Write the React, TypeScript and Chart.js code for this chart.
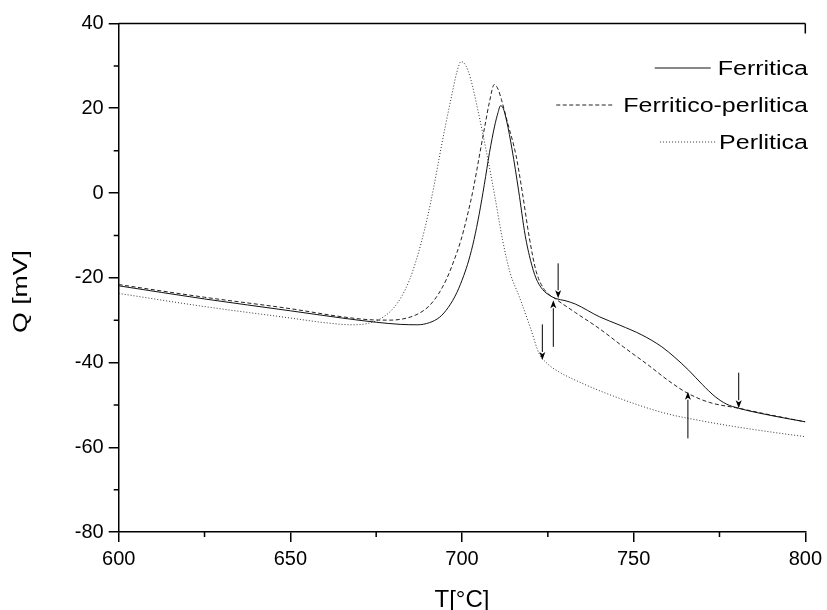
import React, { useEffect, useRef } from "react";
import { Chart, registerables } from "chart.js";

Chart.register(...registerables);

// ---- data ----
const ferriticaT = [600, 625, 650, 665, 675, 682, 687, 690.5, 693.5, 696, 698.5, 700.5, 702, 703.5, 705, 706.5, 708, 709.5, 710.5, 711.2, 712, 713, 714.6, 716.5, 718.4, 720, 721.5, 723.5, 725.4, 727.3, 730, 733, 740, 746, 752.4, 758.2, 762, 766, 770, 773.8, 777, 780.6, 790, 800];
const ferriticaQ = [-21.9, -25, -27.8, -29.5, -30.5, -31, -31.1, -30.6, -29.3, -27, -23.5, -19.5, -15.8, -11, -5, 2, 9.5, 15.8, 19, 20.6, 20, 17, 10.2, 0.5, -10, -16, -20, -22.8, -24.1, -24.9, -25.4, -26.2, -29.2, -31.2, -33.5, -36.3, -38.8, -41.8, -45.2, -48.1, -49.8, -50.8, -52.5, -54];

const ferPerT = [600, 625, 650, 665, 673, 679, 684, 687.5, 690.5, 693, 695.5, 697.5, 699.7, 701.5, 703.3, 705, 706.7, 708, 709.4, 710.5, 711.5, 713.3, 715.7, 717.6, 719.6, 721.6, 724, 727.3, 733, 740, 747, 754.4, 760, 765.6, 772, 780.6, 790, 800];
const ferPerQ = [-21.6, -24.6, -27.3, -29.2, -29.9, -30, -29.5, -28.4, -26.6, -24, -20.3, -16.3, -11.1, -5.5, 1, 8.5, 16, 21.5, 25.6, 24.5, 22, 16.5, 9, 0, -10.5, -18.5, -22.8, -25, -28.2, -32, -36.3, -40.7, -44.2, -47.2, -49.4, -50.8, -52.4, -54];

const perliticaT = [600, 625, 650, 660, 668, 673, 677, 680, 682.5, 684.7, 686.5, 688.1, 690, 691.8, 693.4, 695.2, 697, 698.5, 699.7, 701, 702.5, 704.5, 707, 709.5, 711.8, 714, 716.7, 720, 722.5, 724.5, 727, 735, 747, 759.3, 770, 780, 790, 800];
const perliticaQ = [-23.7, -26.8, -29.5, -30.6, -31.1, -30.7, -29.3, -27.2, -24.3, -20.5, -16.3, -11.8, -5.5, 1.5, 8.5, 16, 23, 28.5, 31, 30.2, 27, 20, 10.2, -0.5, -11, -18.8, -24.5, -32, -38, -40, -41.6, -44.9, -48.8, -52, -53.8, -55.2, -56.4, -57.5];

const seriesNames = ["Ferritica", "Ferritico-perlitica", "Perlitica"];

// arrows: x position, start value, tip value
const arrowT = [728, 726.6, 723.4, 765.8, 780.6];
const arrowFrom = [-16.6, -36.3, -31, -57.9, -42.4];
const arrowTo = [-24.85, -25.3, -39.4, -46.9, -50.8];

const xTickMin = 600;
const xTickMax = 800;
const xStep = 50;
const yTickMin = -80;
const yTickMax = 40;
const yStep = 20;

const xTitle = "T[°C]";
const yTitle = "Q [mV]";

const FONT = '"Liberation Sans", Arial, sans-serif';

const toXY = (t: number[], q: number[]) => t.map((x, i) => ({ x, y: q[i] }));

const lineStyles = [
  { color: "#111", dash: [] as number[] },
  { color: "#222", dash: [4, 2.5] },
  { color: "#333", dash: [1, 2] },
];

const overlayPlugin = {
  id: "overlay",
  afterDraw(chart: any) {
    const ctx = chart.ctx as CanvasRenderingContext2D;
    const xs = chart.scales.x;
    const ys = chart.scales.y;
    const area = chart.chartArea;
    ctx.save();

    // minor ticks
    ctx.strokeStyle = "#000";
    ctx.lineWidth = 1.5;
    ctx.beginPath();
    for (let v = xTickMin + xStep / 2; v < xTickMax; v += xStep) {
      const px = xs.getPixelForValue(v);
      ctx.moveTo(px, area.bottom);
      ctx.lineTo(px, area.bottom + 5);
    }
    for (let v = yTickMin + yStep / 2; v < yTickMax; v += yStep) {
      const py = ys.getPixelForValue(v);
      ctx.moveTo(area.left, py);
      ctx.lineTo(area.left - 5, py);
    }
    // top frame line and right end tick
    ctx.moveTo(area.left, area.top);
    ctx.lineTo(area.right, area.top);
    ctx.moveTo(area.right, area.top);
    ctx.lineTo(area.right, area.top + 10);
    ctx.stroke();

    // arrows
    ctx.fillStyle = "#000";
    ctx.strokeStyle = "#000";
    ctx.lineWidth = 1;
    arrowT.forEach((t, i) => {
      const px = xs.getPixelForValue(t);
      const y0 = ys.getPixelForValue(arrowFrom[i]);
      const y1 = ys.getPixelForValue(arrowTo[i]);
      const dir = y1 > y0 ? 1 : -1;
      const headLen = 8;
      ctx.beginPath();
      ctx.moveTo(px, y0);
      ctx.lineTo(px, y1 - dir * headLen);
      ctx.stroke();
      ctx.beginPath();
      ctx.moveTo(px, y1);
      ctx.lineTo(px - 3, y1 - dir * headLen);
      ctx.lineTo(px, y1 - dir * (headLen - 2));
      ctx.lineTo(px + 3, y1 - dir * headLen);
      ctx.closePath();
      ctx.fill();
    });

    // legend
    const rowY = [68, 105, 142];
    const gaps = [7, 11, 3];
    const legScale = 1.25;
    const rightEdge = 808;
    ctx.font = `20px ${FONT}`;
    ctx.textBaseline = "alphabetic";
    ctx.textAlign = "left";
    seriesNames.forEach((name, i) => {
      const w = ctx.measureText(name).width * legScale;
      const start = rightEdge - w;
      ctx.save();
      ctx.translate(start, rowY[i] + 7.2);
      ctx.scale(legScale, 1);
      ctx.fillStyle = "#000";
      ctx.fillText(name, 0, 0);
      ctx.restore();
      const st = lineStyles[i];
      ctx.save();
      ctx.strokeStyle = st.color;
      ctx.lineWidth = 1;
      ctx.setLineDash(st.dash);
      ctx.beginPath();
      ctx.moveTo(start - gaps[i] - 56, rowY[i]);
      ctx.lineTo(start - gaps[i], rowY[i]);
      ctx.stroke();
      ctx.restore();
    });

    // axis titles
    ctx.fillStyle = "#000";
    ctx.textAlign = "center";
    ctx.font = `24px ${FONT}`;
    {
      const w = ctx.measureText(xTitle).width;
      const s = 55 / w;
      ctx.save();
      ctx.translate((area.left + area.right) / 2, 606.5);
      ctx.scale(s, 1);
      ctx.fillText(xTitle, 0, 0);
      ctx.restore();
    }
    ctx.font = `21px ${FONT}`;
    {
      const w = ctx.measureText(yTitle).width;
      const s = 83 / w;
      ctx.save();
      ctx.translate(27.3, 291.5);
      ctx.rotate(-Math.PI / 2);
      ctx.scale(s, 1);
      ctx.fillText(yTitle, 0, 0);
      ctx.restore();
    }
    ctx.restore();
  },
};

export default function App() {
  const ref = useRef<HTMLCanvasElement | null>(null);
  useEffect(() => {
    if (!ref.current) return;
    const datasets = [
      toXY(ferriticaT, ferriticaQ),
      toXY(ferPerT, ferPerQ),
      toXY(perliticaT, perliticaQ),
    ].map((d, i) => ({
      label: seriesNames[i],
      data: d,
      borderColor: lineStyles[i].color,
      borderDash: lineStyles[i].dash,
      borderWidth: 1,
      pointRadius: 0,
      fill: false,
      cubicInterpolationMode: "monotone" as const,
    }));
    const axisCommon = {
      grid: {
        display: true,
        drawOnChartArea: false,
        drawTicks: true,
        tickLength: 10,
        color: "#000",
        lineWidth: 1.5,
      },
      border: { display: true, color: "#000", width: 1.5 },
      ticks: {
        color: "#000",
        font: { family: FONT, size: 20 },
        padding: 5,
      },
    };
    const chart = new Chart(ref.current, {
      type: "line",
      data: { datasets },
      options: {
        animation: false,
        responsive: false,
        devicePixelRatio: 1,
        layout: { padding: { left: 0, top: 23.5, right: 20, bottom: 0 } },
        plugins: { legend: { display: false }, tooltip: { enabled: false } },
        scales: {
          x: {
            type: "linear",
            min: xTickMin,
            max: xTickMax,
            ...axisCommon,
            ticks: { ...axisCommon.ticks, stepSize: xStep, maxRotation: 0 },
            afterFit: (s: any) => {
              s.height = 78;
            },
          },
          y: {
            type: "linear",
            min: yTickMin,
            max: yTickMax,
            ...axisCommon,
            ticks: { ...axisCommon.ticks, stepSize: yStep },
            afterFit: (s: any) => {
              s.width = 118.7;
            },
          },
        },
      } as any,
      plugins: [overlayPlugin],
    });
    return () => chart.destroy();
  }, []);
  return (
    <div style={{ position: "absolute", left: 0, top: 0, width: 827, height: 610, background: "#fff" }}>
      <canvas ref={ref} width={827} height={610} style={{ display: "block" }} />
    </div>
  );
}
